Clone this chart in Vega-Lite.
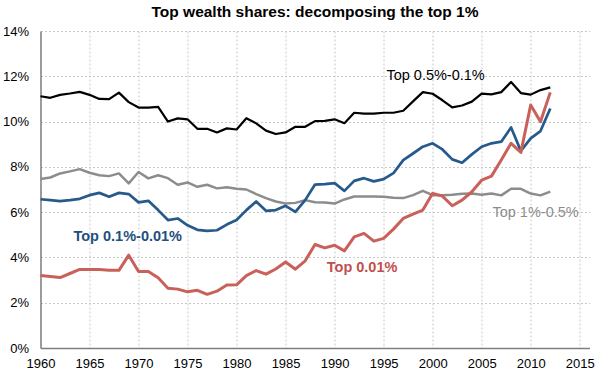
{
  "$schema": "https://vega.github.io/schema/vega-lite/v6.json",
  "width": 549,
  "height": 317,
  "autosize": {"type": "none"},
  "padding": {"left": 40.5, "top": 31, "right": 10.5, "bottom": 33},
  "background": "white",
  "title": {
    "text": "Top wealth shares: decomposing the top 1%",
    "font": "Liberation Sans",
    "fontSize": 15.5,
    "fontWeight": "bold",
    "color": "#000000",
    "anchor": "middle",
    "offset": 5
  },
  "config": {
    "view": {"stroke": null},
    "axis": {
      "labelFont": "Liberation Sans",
      "labelFontSize": 13,
      "labelColor": "#000000",
      "domainColor": "#7f7f7f",
      "domainWidth": 1.5,
      "ticks": false,
      "gridColor": "#c8c8c8",
      "gridDash": [2, 2],
      "gridWidth": 1
    }
  },
  "layer": [
    {
      "data": {
        "values": [
          {"year": 1960, "b": 11.12, "g": 7.46, "u": 6.57, "r": 3.2},
          {"year": 1961, "b": 11.05, "g": 7.53, "u": 6.53, "r": 3.16},
          {"year": 1962, "b": 11.18, "g": 7.71, "u": 6.49, "r": 3.11},
          {"year": 1963, "b": 11.24, "g": 7.8, "u": 6.53, "r": 3.29},
          {"year": 1964, "b": 11.31, "g": 7.9, "u": 6.59, "r": 3.47},
          {"year": 1965, "b": 11.18, "g": 7.74, "u": 6.75, "r": 3.47},
          {"year": 1966, "b": 11.0, "g": 7.63, "u": 6.85, "r": 3.47},
          {"year": 1967, "b": 10.99, "g": 7.59, "u": 6.68, "r": 3.43},
          {"year": 1968, "b": 11.28, "g": 7.71, "u": 6.85, "r": 3.43},
          {"year": 1969, "b": 10.86, "g": 7.27, "u": 6.8, "r": 4.1},
          {"year": 1970, "b": 10.62, "g": 7.77, "u": 6.43, "r": 3.38},
          {"year": 1971, "b": 10.62, "g": 7.49, "u": 6.5, "r": 3.38},
          {"year": 1972, "b": 10.65, "g": 7.63, "u": 6.09, "r": 3.1},
          {"year": 1973, "b": 10.0, "g": 7.5, "u": 5.65, "r": 2.64},
          {"year": 1974, "b": 10.14, "g": 7.21, "u": 5.72, "r": 2.6},
          {"year": 1975, "b": 10.1, "g": 7.31, "u": 5.42, "r": 2.48},
          {"year": 1976, "b": 9.68, "g": 7.12, "u": 5.22, "r": 2.55},
          {"year": 1977, "b": 9.68, "g": 7.21, "u": 5.17, "r": 2.37},
          {"year": 1978, "b": 9.52, "g": 7.05, "u": 5.2, "r": 2.51},
          {"year": 1979, "b": 9.7, "g": 7.1, "u": 5.45, "r": 2.78},
          {"year": 1980, "b": 9.65, "g": 7.03, "u": 5.65, "r": 2.79},
          {"year": 1981, "b": 10.15, "g": 7.0, "u": 6.09, "r": 3.2},
          {"year": 1982, "b": 9.92, "g": 6.8, "u": 6.47, "r": 3.42},
          {"year": 1983, "b": 9.6, "g": 6.62, "u": 6.06, "r": 3.26},
          {"year": 1984, "b": 9.45, "g": 6.47, "u": 6.09, "r": 3.49},
          {"year": 1985, "b": 9.52, "g": 6.38, "u": 6.28, "r": 3.8},
          {"year": 1986, "b": 9.77, "g": 6.41, "u": 6.01, "r": 3.48},
          {"year": 1987, "b": 9.77, "g": 6.53, "u": 6.53, "r": 3.85},
          {"year": 1988, "b": 10.02, "g": 6.44, "u": 7.22, "r": 4.57},
          {"year": 1989, "b": 10.03, "g": 6.43, "u": 7.24, "r": 4.42},
          {"year": 1990, "b": 10.1, "g": 6.38, "u": 7.28, "r": 4.54},
          {"year": 1991, "b": 9.93, "g": 6.56, "u": 6.94, "r": 4.29},
          {"year": 1992, "b": 10.39, "g": 6.69, "u": 7.38, "r": 4.91},
          {"year": 1993, "b": 10.35, "g": 6.69, "u": 7.5, "r": 5.06},
          {"year": 1994, "b": 10.35, "g": 6.69, "u": 7.36, "r": 4.72},
          {"year": 1995, "b": 10.39, "g": 6.68, "u": 7.46, "r": 4.84},
          {"year": 1996, "b": 10.39, "g": 6.64, "u": 7.72, "r": 5.25},
          {"year": 1997, "b": 10.48, "g": 6.62, "u": 8.3, "r": 5.72},
          {"year": 1998, "b": 10.89, "g": 6.75, "u": 8.59, "r": 5.91},
          {"year": 1999, "b": 11.3, "g": 6.94, "u": 8.89, "r": 6.09},
          {"year": 2000, "b": 11.23, "g": 6.75, "u": 9.04, "r": 6.83},
          {"year": 2001, "b": 10.94, "g": 6.75, "u": 8.77, "r": 6.71},
          {"year": 2002, "b": 10.63, "g": 6.77, "u": 8.33, "r": 6.28},
          {"year": 2003, "b": 10.71, "g": 6.81, "u": 8.18, "r": 6.53},
          {"year": 2004, "b": 10.88, "g": 6.82, "u": 8.55, "r": 6.9},
          {"year": 2005, "b": 11.23, "g": 6.77, "u": 8.89, "r": 7.41},
          {"year": 2006, "b": 11.2, "g": 6.82, "u": 9.04, "r": 7.59},
          {"year": 2007, "b": 11.3, "g": 6.74, "u": 9.11, "r": 8.3},
          {"year": 2008, "b": 11.75, "g": 7.03, "u": 9.74, "r": 9.04},
          {"year": 2009, "b": 11.26, "g": 7.03, "u": 8.7, "r": 8.64},
          {"year": 2010, "b": 11.19, "g": 6.82, "u": 9.26, "r": 10.73},
          {"year": 2011, "b": 11.39, "g": 6.74, "u": 9.58, "r": 9.99},
          {"year": 2012, "b": 11.51, "g": 6.91, "u": 10.58, "r": 11.29}
        ]
      },
      "transform": [{"fold": ["b", "g", "u", "r"], "as": ["series", "share"]}],
      "mark": {"type": "line", "strokeJoin": "round", "strokeCap": "butt"},
      "encoding": {
        "x": {
          "field": "year",
          "type": "quantitative",
          "scale": {"domain": [1960, 2016], "nice": false, "zero": false},
          "axis": {
            "title": null,
            "values": [1960, 1965, 1970, 1975, 1980, 1985, 1990, 1995, 2000, 2005, 2010, 2015],
            "format": "d",
            "labelPadding": 9,
            "labelFlush": false,
            "labelOverlap": false
          }
        },
        "y": {
          "field": "share",
          "type": "quantitative",
          "scale": {"domain": [0, 14], "nice": false},
          "axis": {
            "title": null,
            "values": [0, 2, 4, 6, 8, 10, 12, 14],
            "labelExpr": "datum.value + '%'",
            "labelPadding": 12
          }
        },
        "color": {
          "field": "series",
          "type": "nominal",
          "scale": {"domain": ["b", "g", "u", "r"], "range": ["#000000", "#8c8c8c", "#275a8c", "#c9605a"]},
          "legend": null
        },
        "strokeWidth": {
          "field": "series",
          "type": "nominal",
          "scale": {"domain": ["b", "g", "u", "r"], "range": [2.2, 3, 4, 4]},
          "legend": null
        },
        "order": {"field": "year", "type": "quantitative"}
      }
    },
    {
      "data": {"values": [{}]},
      "mark": {"type": "text", "text": "Top 0.5%-0.1%", "font": "Liberation Sans", "fontSize": 14.5, "color": "#000000", "align": "center", "baseline": "middle"},
      "encoding": {"x": {"datum": 2000.3}, "y": {"datum": 12.0}}
    },
    {
      "data": {"values": [{}]},
      "mark": {"type": "text", "text": "Top 1%-0.5%", "font": "Liberation Sans", "fontSize": 14.5, "color": "#8c8c8c", "align": "center", "baseline": "middle"},
      "encoding": {"x": {"datum": 2010.5}, "y": {"datum": 5.95}}
    },
    {
      "data": {"values": [{}]},
      "mark": {"type": "text", "text": "Top 0.1%-0.01%", "font": "Liberation Sans", "fontSize": 14.5, "fontWeight": "bold", "color": "#1f4e80", "align": "center", "baseline": "middle"},
      "encoding": {"x": {"datum": 1968.9}, "y": {"datum": 4.89}}
    },
    {
      "data": {"values": [{}]},
      "mark": {"type": "text", "text": "Top 0.01%", "font": "Liberation Sans", "fontSize": 14.5, "fontWeight": "bold", "color": "#c0504d", "align": "center", "baseline": "middle"},
      "encoding": {"x": {"datum": 1992.8}, "y": {"datum": 3.52}}
    }
  ]
}
